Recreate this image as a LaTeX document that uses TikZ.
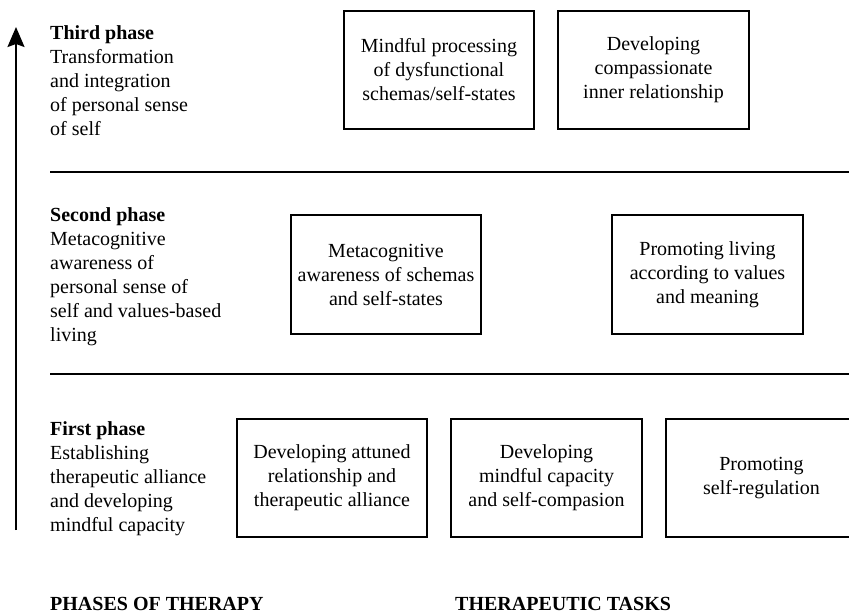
\documentclass[tikz,border=0pt]{standalone}
\usepackage{fontspec}
\setmainfont{Liberation Serif}
\usetikzlibrary{arrows.meta}
\begin{document}
\begin{tikzpicture}[x=1pt,y=-1pt,
  txt/.style={font=\fontsize{20}{24}\selectfont, inner sep=0pt, align=left, anchor=north west},
  taskbox/.style={draw, line width=1.5pt, font=\fontsize{20}{24}\selectfont, align=center,
                  minimum width=190pt, minimum height=118pt, inner sep=0pt},
  sepline/.style={line width=1.8pt},
  lbl/.style={font=\fontsize{20}{24}\selectfont\bfseries, inner sep=0pt, anchor=base west}]
\useasboundingbox (0,0) rectangle (849,615);

% arrow
\coordinate (abot) at (16,530);
\coordinate (atop) at (16,27);
\draw[line width=2pt, -{Stealth[width=17pt,length=20pt,inset=3pt]}] (abot) -- (atop);

% separator lines
\coordinate (l1a) at (50,172); \coordinate (l1b) at (849,172);
\coordinate (l2a) at (50,374); \coordinate (l2b) at (849,374);
\draw[sepline] (l1a) -- (l1b);
\draw[sepline] (l2a) -- (l2b);

% phase descriptions
\node[txt] (p3) at (50,22.2) {\strut\textbf{Third phase}\\Transformation\\and integration\\of personal sense\\of self};
\node[txt] (p2) at (50,204.2) {\strut\textbf{Second phase}\\Metacognitive\\awareness of\\personal sense of\\self and values-based\\living};
\node[txt] (p1) at (50,418.2) {\strut\textbf{First phase}\\Establishing\\therapeutic alliance\\and developing\\mindful capacity};

% third phase tasks
\node[taskbox] (t1) at (439,70) {Mindful processing\\of dysfunctional\\schemas/self-states};
\node[taskbox, minimum width=191pt] (t2) at (653.5,70) {Developing\\compassionate\\inner relationship};

% second phase tasks
\node[taskbox, minimum height=119pt] (s1) at (386,274.5) {Metacognitive\\awareness of schemas\\and self-states};
\node[taskbox, minimum width=191pt, minimum height=119pt] (s2) at (707.5,274.5) {Promoting living\\according to values\\and meaning};

% first phase tasks
\node[taskbox] (f1) at (332,478) {Developing attuned\\relationship and\\therapeutic alliance};
\node[taskbox, minimum width=191pt] (f2) at (546.5,478) {Developing\\mindful capacity\\and self-compasion};
\node[taskbox, minimum width=191pt] (f3) at (761.5,478) {Promoting\\self-regulation};

% bottom labels
\node[lbl] (lp) at (50,610.5) {PHASES OF THERAPY};
\node[lbl] (lt) at (455,610.5) {THERAPEUTIC TASKS};
\end{tikzpicture}
\end{document}
